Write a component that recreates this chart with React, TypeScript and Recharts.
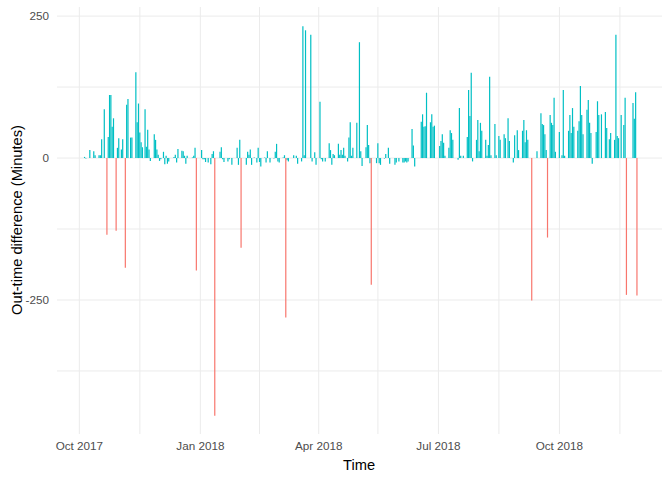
import React from 'react';
import { BarChart, Bar, XAxis, YAxis, CartesianGrid } from 'recharts';

// x = days since 1 Oct 2017, y = out-time difference in minutes
const dailyDiff: [number, number][] = [
  [4, 2], [5, -1], [8, 14], [11, 12], [12, 5], [15, 5], [16, 5], [17, 33], [19, 86],
  [22, 37], [23, 111], [24, 111], [25, 55], [26, 70], [29, 18], [30, 35], [32, 15],
  [33, 33], [36, 94], [37, 104], [39, 36], [40, 36], [43, 151], [44, 63], [45, 96],
  [46, 45], [47, 28], [48, 19], [50, 86], [51, 20], [52, 50], [53, 15], [54, -5],
  [57, 42], [58, 32], [59, 15], [60, 6], [61, -5], [62, -2], [64, 11], [65, -11],
  [66, 4], [67, -10], [68, -6], [72, 2], [73, 6], [74, -8], [75, 16], [78, 13],
  [79, 12], [80, 4], [81, -10], [82, 4], [86, 1], [87, 4], [88, 18],
  [93, 14], [94, -2], [95, -2], [96, -7], [98, -8], [100, -11], [101, 7], [102, 12],
  [107, 11], [108, 19], [109, -2], [110, -7], [113, -6], [114, -2], [116, -12],
  [120, 18], [121, -12], [122, 32], [127, -12], [128, 11], [129, 6], [130, 15],
  [131, -12], [133, 1], [135, -8], [136, 18], [137, -7], [138, -15], [141, 1],
  [142, -8], [143, 12], [145, -8], [148, -1], [149, 11], [150, 25], [151, -6],
  [152, -8], [155, 1], [156, 5], [158, -4], [159, -6], [163, 5], [165, 4], [166, -10],
  [169, -6], [170, 232], [171, 5], [172, 225], [176, 217], [177, -6], [179, 10],
  [180, -12], [183, 99], [184, -2], [185, -6], [187, -6], [190, 26], [191, 14],
  [192, -12], [193, 7], [194, 5], [197, 25], [198, 6], [199, 14], [200, 6], [201, 18],
  [202, 4], [204, -6], [205, 36], [206, 63], [207, 4], [208, 18], [211, 62], [213, 204],
  [214, 12], [215, -14], [218, 19], [219, 58], [220, 23], [221, -9], [226, -9],
  [227, 26], [228, -9], [229, -12], [232, -1], [233, 7], [235, 18], [236, -10],
  [240, -12], [241, -8], [243, -6], [246, -8], [247, -8], [248, -6], [249, -8],
  [250, -6], [253, 51], [254, 22], [255, -15], [260, 64], [261, 77], [262, 55],
  [263, 56], [264, 115], [267, 63], [268, 77], [269, 55], [270, 57], [274, 21],
  [275, 30], [276, 42], [277, 27], [278, 4], [281, 18], [282, 49], [283, 44], [284, 32],
  [288, -3], [289, 88], [290, 4], [292, 4], [295, 37], [296, 120], [297, 74], [298, 150],
  [299, -6], [302, 32], [303, 67], [304, 12], [305, 62], [306, 48], [309, 32], [310, 4],
  [311, 23], [312, 143], [313, 5], [316, 60], [317, 5], [319, 39], [320, 32], [323, 42],
  [324, 35], [326, 70], [327, 30], [330, -8], [331, 40], [333, 49], [334, 14], [337, 48],
  [338, 67], [339, 28], [340, 49], [341, 32], [348, 12], [351, 79], [352, 60], [353, 58],
  [354, 42], [355, 14], [358, 76], [359, 62], [360, 58], [361, 106], [362, 11],
  [365, 46], [367, 5], [368, 120], [369, 4], [372, 48], [373, 76], [374, 44], [375, 88],
  [376, 55], [379, 48], [380, 65], [381, 127], [382, 76], [383, 42], [386, 85],
  [387, 102], [388, 62], [389, 44], [390, -10], [393, 46], [394, 100], [395, 76],
  [397, 77], [400, 81], [401, 53], [403, 33], [404, 44], [407, 32], [408, 217],
  [409, 39], [410, 35], [412, 76], [414, 58], [415, 106], [421, 97], [422, 69],
  [423, 116],
];

// the red ones
const flaggedDiff: [number, number][] = [
  [21, -135], [28, -128], [35, -193], [89, -198], [103, -454], [123, -158],
  [157, -281], [222, -223], [344, -251], [356, -140], [416, -241], [424, -242],
];

const xTicks = [0, 46, 92, 137, 182, 227, 273, 319, 365, 411];
const xTickLabels: Record<number, string> = {
  0: 'Oct 2017',
  92: 'Jan 2018',
  182: 'Apr 2018',
  273: 'Jul 2018',
  365: 'Oct 2018',
};
const yTicks = [-375, -250, -125, 0, 125, 250];
const yTickLabels: Record<number, string> = { '-250': '-250', 0: '0', 250: '250' };

type Row = { day: number; diff?: number; flagged?: number };

const rows = new Map<number, Row>();
dailyDiff.forEach(([day, v]) => rows.set(day, { ...(rows.get(day) || { day }), diff: v }));
flaggedDiff.forEach(([day, v]) => rows.set(day, { ...(rows.get(day) || { day }), flagged: v }));
const data = Array.from(rows.values()).sort((a, b) => a.day - b.day);

const FONT = '"Liberation Sans", Arial, sans-serif';
const tickStyle = { fill: '#4D4D4D', fontSize: 11.7, fontFamily: FONT };

export default function App() {
  return (
    <div
      style={{
        position: 'absolute',
        left: 0,
        top: 0,
        width: 672,
        height: 480,
        background: '#fff',
        fontFamily: FONT,
      }}
    >
      <BarChart
        width={672}
        height={480}
        data={data}
        margin={{ top: 7, right: 10, bottom: 0, left: 0 }}
      >
        {/* syncWithTicks keeps the grid off the panel edges */}
        <CartesianGrid stroke="#EBEBEB" strokeWidth={1} syncWithTicks />
        <XAxis
          type="number"
          dataKey="day"
          domain={[-17, 443]}
          ticks={xTicks}
          interval={0}
          height={46}
          axisLine={false}
          tickLine={false}
          tick={tickStyle}
          tickFormatter={(v: number) => xTickLabels[v] || ''}
        />
        <YAxis
          type="number"
          domain={[-486, 266]}
          ticks={yTicks}
          interval={0}
          width={57}
          axisLine={false}
          tickLine={false}
          tick={tickStyle}
          tickFormatter={(v: number) => yTickLabels[v] || ''}
        />
        <Bar dataKey="diff" stackId="d" fill="#00BFC4" barSize={1.2} isAnimationActive={false} />
        <Bar dataKey="flagged" stackId="d" fill="#F8766D" barSize={1.2} isAnimationActive={false} />
      </BarChart>
      <div
        style={{
          position: 'absolute',
          left: 359,
          top: 457,
          transform: 'translateX(-50%)',
          fontSize: 14.7,
          color: '#000',
          whiteSpace: 'nowrap',
        }}
      >
        Time
      </div>
      <div
        style={{
          position: 'absolute',
          left: 17,
          top: 220,
          transform: 'translate(-50%, -50%) rotate(-90deg)',
          fontSize: 14.7,
          color: '#000',
          whiteSpace: 'nowrap',
        }}
      >
        Out-time difference (Minutes)
      </div>
    </div>
  );
}
